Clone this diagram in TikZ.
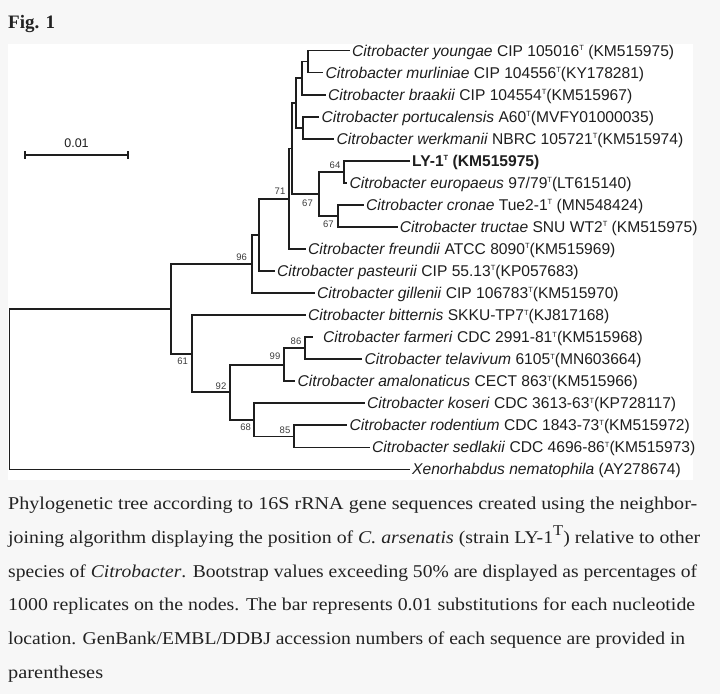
\documentclass[tikz,border=0pt]{standalone}
\usepackage{fontspec}
\usepackage{graphicx}
\setmainfont{Liberation Serif}
\newfontfamily\treefont{Liberation Sans}
\definecolor{pagebg}{RGB}{247,247,247}
\definecolor{ink}{RGB}{30,30,30}
\definecolor{capink}{RGB}{34,34,34}
\definecolor{bootink}{RGB}{60,60,60}
\newcommand\supT{\raisebox{5.6pt}{\fontsize{7.5}{8}\selectfont T}}
\newcommand\spn[1]{\textit{#1}}
\begin{document}
\begin{tikzpicture}[x=1pt,y=-1pt,
  tree/.style={draw=ink, line width=1.8pt, line cap=rect},
  leaf/.style={anchor=west, inner xsep=3pt, inner ysep=0pt, text height=11pt, text depth=0pt,
    font=\treefont\fontsize{15.6}{16}\selectfont, text=ink},
  boot/.style={font=\treefont\fontsize{9.5}{10}\selectfont, text=bootink, inner sep=0pt},
  capline/.style={anchor=base west, inner sep=0pt, text=capink,
    font=\fontsize{18}{20}\selectfont}]
\fill[pagebg] (0,0) rectangle (720,694);
\fill[white] (8,44) rectangle (693,480);
\useasboundingbox (0,0) rectangle (720,694);

\node[anchor=base west, inner sep=0pt, text=capink, font=\fontsize{19}{20}\selectfont\bfseries] (fig) at (8,28.3) {Fig. 1};

% leaves
\node[leaf] (l0) at (349,50.5) {\spn{Citrobacter youngae} CIP 105016\supT\ (KM515975)};
\node[leaf] (l1) at (322.5,72.55) {\spn{Citrobacter murliniae} CIP 104556\supT(KY178281)};
\node[leaf] (l2) at (325,94.6) {\spn{Citrobacter braakii} CIP 104554\supT(KM515967)};
\node[leaf] (l3) at (318.5,116.65) {\spn{Citrobacter portucalensis} A60\supT(MVFY01000035)};
\node[leaf] (l4) at (333.5,138.7) {\spn{Citrobacter werkmanii} NBRC 105721\supT(KM515974)};
\node[leaf] (l5) at (409,160.75) {\bfseries LY-1\supT\ (KM515975)};
\node[leaf] (l6) at (346.5,182.8) {\spn{Citrobacter europaeus} 97/79\supT(LT615140)};
\node[leaf] (l7) at (363,204.85) {\spn{Citrobacter cronae} Tue2-1\supT\ (MN548424)};
\node[leaf] (l8) at (396.7,226.9) {\spn{Citrobacter tructae} SNU WT2\supT\ (KM515975)};
\node[leaf] (l9) at (305,248.95) {\spn{Citrobacter freundii} ATCC 8090\supT(KM515969)};
\node[leaf] (l10) at (274,271.0) {\spn{Citrobacter pasteurii} CIP 55.13\supT(KP057683)};
\node[leaf] (l11) at (314,293.05) {\spn{Citrobacter gillenii} CIP 106783\supT(KM515970)};
\node[leaf] (l12) at (305,315.1) {\spn{Citrobacter bitternis} SKKU-TP7\supT(KJ817168)};
\node[leaf, inner xsep=11pt] (l13) at (312,337.15) {\spn{Citrobacter farmeri} CDC 2991-81\supT(KM515968)};
\node[leaf] (l14) at (361.5,359.2) {\spn{Citrobacter telavivum} 6105\supT(MN603664)};
\node[leaf] (l15) at (294.5,381.25) {\spn{Citrobacter amalonaticus} CECT 863\supT(KM515966)};
\node[leaf] (l16) at (364,403.3) {\spn{Citrobacter koseri} CDC 3613-63\supT(KP728117)};
\node[leaf] (l17) at (346.5,425.35) {\spn{Citrobacter rodentium} CDC 1843-73\supT(KM515972)};
\node[leaf] (l18) at (369,447.4) {\spn{Citrobacter sedlakii} CDC 4696-86\supT(KM515973)};
\node[leaf] (l19) at (409,469.45) {\spn{Xenorhabdus nematophila} (AY278674)};

% internal nodes
\coordinate (A) at (308.3,61.5);
\coordinate (B) at (301.7,78.05);
\coordinate (C) at (303.3,127.7);
\coordinate (D) at (296,102.9);
\coordinate (N64) at (344,171.8);
\coordinate (N67b) at (338.3,215.9);
\coordinate (N67a) at (319.3,193.85);
\coordinate (E) at (292,148.4);
\coordinate (N71) at (289.3,198.7);
\coordinate (F) at (259.3,234.85);
\coordinate (N96) at (251.7,263.95);
\coordinate (N86) at (305,348.2);
\coordinate (N99) at (284,364.7);
\coordinate (N85) at (294,436.4);
\coordinate (N68) at (254,419.85);
\coordinate (N92) at (230,392.3);
\coordinate (N61) at (192.3,353.7);
\coordinate (G) at (170.7,308.8);
\coordinate (R) at (9.5,389.1);

% branches
\draw[tree] (l0.west) -| (A) |- (l1.west);
\draw[tree] (A) -| (B) |- (l2.west);
\draw[tree] (l3.west) -| (C) |- (l4.west);
\draw[tree] (B) -| (D) |- (C);
\draw[tree] (l5.west) -| (N64) |- (l6.west);
\draw[tree] (l7.west) -| (N67b) |- (l8.west);
\draw[tree] (N64) -| (N67a) |- (N67b);
\draw[tree] (D) -| (E) |- (N67a);
\draw[tree] (E) -| (N71) |- (l9.west);
\draw[tree] (N71) -| (F) |- (l10.west);
\draw[tree] (F) -| (N96) |- (l11.west);
\draw[tree] (l13.west) -| (N86) |- (l14.west);
\draw[tree] (N86) -| (N99) |- (l15.west);
\draw[tree] (l17.west) -| (N85) |- (l18.west);
\draw[tree] (l16.west) -| (N68) |- (N85);
\draw[tree] (N99) -| (N92) |- (N68);
\draw[tree] (l12.west) -| (N61) |- (N92);
\draw[tree] (N96) -| (G) |- (N61);
\draw[tree] (G) -| (R) |- (l19.west);

% bootstrap values
\node[boot] (b64) at ([xshift=-9pt,yshift=6.8pt]N64) {64};
\node[boot] (b67a) at ([xshift=-11.8pt,yshift=-9.2pt]N67a) {67};
\node[boot] (b67b) at ([xshift=-10pt,yshift=-8.1pt]N67b) {67};
\node[boot] (b71) at ([xshift=-9.3pt,yshift=7pt]N71) {71};
\node[boot] (b96) at ([xshift=-10pt,yshift=6.6pt]N96) {96};
\node[boot] (b61) at ([xshift=-9.6pt,yshift=-8pt]N61) {61};
\node[boot] (b92) at ([xshift=-9pt,yshift=6.3pt]N92) {92};
\node[boot] (b99) at ([xshift=-9pt,yshift=8pt]N99) {99};
\node[boot] (b86) at ([xshift=-9pt,yshift=6.5pt]N86) {86};
\node[boot] (b68) at ([xshift=-8.3pt,yshift=-6.9pt]N68) {68};
\node[boot] (b85) at ([xshift=-9pt,yshift=5.7pt]N85) {85};

% scale bar
\coordinate (sbL) at (25,155);
\coordinate (sbR) at (127.7,155);
\draw[tree, line cap=butt] (sbL) -- (sbR);
\draw[tree, line cap=butt] ([yshift=3.8pt]sbL) -- ([yshift=-3.8pt]sbL);
\draw[tree, line cap=butt] ([yshift=3.8pt]sbR) -- ([yshift=-3.8pt]sbR);
\node[font=\treefont\fontsize{12.5}{13}\selectfont, text=ink, inner sep=0pt] (sbT) at (76.5,143) {0.01};

% caption
\node[capline] (c1) at (8,509.5) {\resizebox{689pt}{\height}{Phylogenetic tree according to 16S rRNA gene sequences created using the neighbor-}};
\node[capline] (c2) at (8,543.3) {\resizebox{692pt}{\height}{joining algorithm displaying the position of \textit{C. arsenatis} (strain LY-1\raisebox{0.42em}{\fontsize{15}{15}\selectfont T}) relative to other}};
\node[capline] (c3) at (8,577.1) {\resizebox{689pt}{\height}{species of \textit{Citrobacter}. Bootstrap values exceeding 50\% are displayed as percentages of}};
\node[capline] (c4) at (8,610.9) {\resizebox{687pt}{\height}{1000 replicates on the nodes. The bar represents 0.01 substitutions for each nucleotide}};
\node[capline] (c5) at (8,644.7) {\resizebox{677pt}{\height}{location. GenBank/EMBL/DDBJ accession numbers of each sequence are provided in}};
\node[capline] (c6) at (8,678.5) {\resizebox{95pt}{\height}{parentheses}};
\end{tikzpicture}
\end{document}
